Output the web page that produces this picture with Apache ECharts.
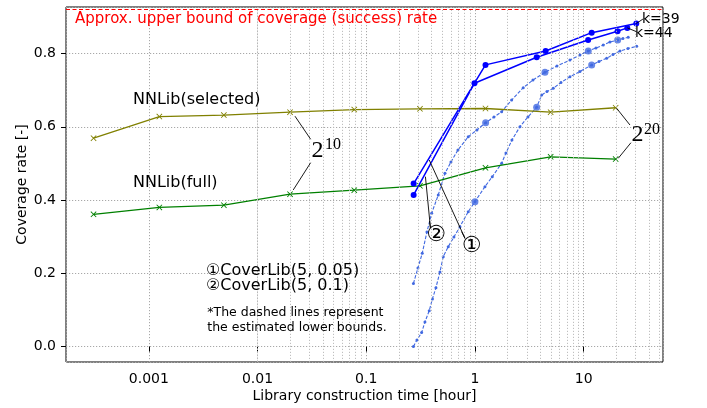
<!DOCTYPE html>
<html><head><meta charset="utf-8">
<script src="https://cdn.jsdelivr.net/npm/echarts@6/dist/echarts.min.js"></script>
<style>html,body{margin:0;padding:0;background:#fff}#c{width:707px;height:408px}</style>
</head><body><div id="c"></div>
<script>
// ---- data ----
const nnTime = [0.00031, 0.00125, 0.0049, 0.0199, 0.0776, 0.312, 1.25, 4.97, 19.7];
const nnSelected = [0.569, 0.628, 0.632, 0.640, 0.647, 0.649, 0.650, 0.640, 0.652];
const nnFull = [0.361, 0.380, 0.386, 0.416, 0.427, 0.439, 0.488, 0.518, 0.512];

const cov1Time = [0.273, 1.25, 4.47, 11.85, 30.5];       // CoverLib(5, 0.05), k=39
const cov1Rate = [0.445, 0.769, 0.807, 0.857, 0.882];
const cov2Time = [0.273, 0.99, 3.7, 11.0, 20.5, 25.2];    // CoverLib(5, 0.1), k=44
const cov2Rate = [0.414, 0.719, 0.790, 0.837, 0.861, 0.870];

// estimated lower bounds (dashed)
const low1Time = [0.2717,0.2927,0.3233,0.3467,0.3798,0.4064,0.4377,0.4765,0.511,0.5681,0.641,0.7278,0.8678,1.0,1.236,1.443,1.761,1.928,2.19,2.594,3.073,3.695,4.108,4.597,5.253,6.183,7.482,9.247,11.85,13.83,16.28,18.61,21.58,25.56,30.74];
const low1Rate = [0.000,0.0183,0.0382,0.0674,0.0982,0.1302,0.161,0.2038,0.2456,0.2729,0.2993,0.3274,0.3683,0.3956,0.4366,0.4638,0.5004,0.5285,0.564,0.6003,0.6268,0.6532,0.6868,0.6963,0.705,0.7209,0.7367,0.7509,0.7686,0.7782,0.7869,0.7973,0.8068,0.8136,0.8196];
const low2Time = [0.2717,0.299,0.3275,0.3618,0.3996,0.4597,0.5297,0.6014,0.6974,0.8678,1.043,1.254,1.496,1.761,2.176,2.782,3.417,4.405,5.681,7.482,9.247,11.03,12.98,15.15,17.46,20.55,22.98,25.72];
const low2Rate = [0.1724,0.2147,0.2548,0.313,0.364,0.4139,0.4731,0.504,0.5367,0.573,0.5913,0.6112,0.6267,0.6412,0.6731,0.7067,0.7277,0.7487,0.7659,0.7823,0.7959,0.8068,0.815,0.8232,0.8314,0.8368,0.8409,0.8442];
const low1BigTime = [1.0, 3.695, 11.85];
const low1BigRate = [0.3956, 0.6532, 0.7686];
const low2BigTime = [1.254, 4.405, 11.03, 20.55];
const low2BigRate = [0.6112, 0.7487, 0.8068, 0.8368];

const upperBound = 0.92;
const xTickLabels = ['0.001', '0.01', '0.1', '1', '10'];

// annotation leader lines, in data coordinates
const leaders = [
  [[0.0221, 0.629], [0.0308, 0.566]],
  [[0.0308, 0.502], [0.0213, 0.4276]],
  [[20.12, 0.6505], [26.67, 0.6049]],
  [[20.81, 0.514], [27.23, 0.5566]],
  [[30.5, 0.882], [35.1, 0.894]],
  [[25.2, 0.870], [30.7, 0.8595]],
  [[0.809, 0.2958], [0.3798, 0.5094]],
  [[0.809, 0.2958], [0.7546, 0.3138]],
  [[0.3896, 0.3239], [0.3504, 0.4638]],
  [[0.3896, 0.3239], [0.3815, 0.343]]
];

// ---- chart ----
const X_MIN = 0.000173, X_MAX = 53.7, Y_MIN = -0.042, Y_MAX = 0.927;
const F = "'DejaVu Sans', 'Noto Sans CJK JP', sans-serif";
const SERIF = "'Liberation Serif', 'DejaVu Serif', serif";
const GRID_STYLE = { type: [1.2, 1.8], color: '#a8a8a8', width: 1 };
const minorGrid = [];
for (let e = -4; e <= 1; e++) for (let m = 2; m <= 9; m++) {
  const v = +(m * Math.pow(10, e)).toPrecision(2);
  if (v > X_MIN && v < X_MAX) minorGrid.push({ xAxis: v });
}
const xMark = 'path://M0,1 L1,0 L5,4 L9,0 L10,1 L6,5 L10,9 L9,10 L5,6 L1,10 L0,9 L4,5 Z';
const pairs = (xs, ys) => xs.map((x, i) => [x, ys[i]]);
function fmtX(v) {
  const e = Math.log10(v), r = Math.round(e);
  if (Math.abs(e - r) > 1e-6) return '';
  const s = r < 0 ? Math.pow(10, r).toFixed(-r) : String(Math.pow(10, r));
  return xTickLabels.indexOf(s) >= 0 ? s : '';
}
function txt(x, y, text, size, opts) {
  return Object.assign({ type: 'text', x: x, y: y, z: 100, silent: true,
    style: Object.assign({ text: text, fontSize: size, fontFamily: F, fill: '#000', align: 'left', verticalAlign: 'middle' }, opts || {}) });
}

const chart = echarts.init(document.getElementById('c'));
const series = [
  { type: 'line', data: [], silent: true, z: 1,
    markLine: { silent: true, symbol: ['none', 'none'], label: { show: false }, animation: false,
      data: minorGrid.map(d => Object.assign({ lineStyle: { type: [1.2, 1.8], color: '#b8b8b8', width: 0.9 } }, d))
        .concat([{ yAxis: upperBound, lineStyle: { type: [4, 2.5], color: '#ff0000', width: 1.2 } }]) } },
  { name: 'NNLib(selected)', type: 'line', data: pairs(nnTime, nnSelected), symbol: xMark, symbolSize: 6, z: 3,
    lineStyle: { color: '#808000', width: 1.3 }, itemStyle: { color: '#808000' } },
  { name: 'NNLib(full)', type: 'line', data: pairs(nnTime, nnFull), symbol: xMark, symbolSize: 6, z: 3,
    lineStyle: { color: '#008000', width: 1.3 }, itemStyle: { color: '#008000' } },
  { name: 'low1', type: 'line', data: pairs(low1Time, low1Rate), symbol: 'circle', symbolSize: 3, z: 2,
    lineStyle: { color: '#4169e1', width: 1.1, type: [3.5, 1.6] }, itemStyle: { color: '#4169e1' } },
  { name: 'low2', type: 'line', data: pairs(low2Time, low2Rate), symbol: 'circle', symbolSize: 3, z: 2,
    lineStyle: { color: '#4169e1', width: 1.1, type: [3.5, 1.6] }, itemStyle: { color: '#4169e1' } },
  { type: 'scatter', data: pairs(low1BigTime, low1BigRate), symbolSize: 7, itemStyle: { color: '#4169e1' }, z: 2 },
  { type: 'scatter', data: pairs(low2BigTime, low2BigRate), symbolSize: 7, itemStyle: { color: '#4169e1' }, z: 2 },
  { name: 'CoverLib(5, 0.05)', type: 'line', data: pairs(cov1Time, cov1Rate), symbol: 'circle', symbolSize: 6, z: 4,
    lineStyle: { color: '#0000ff', width: 1.5 }, itemStyle: { color: '#0000ff' } },
  { name: 'CoverLib(5, 0.1)', type: 'line', data: pairs(cov2Time, cov2Rate), symbol: 'circle', symbolSize: 6, z: 4,
    lineStyle: { color: '#0000ff', width: 1.5 }, itemStyle: { color: '#0000ff' } }
].concat(leaders.map(seg => ({ type: 'line', data: seg, symbol: 'none', silent: true, z: 5,
    lineStyle: { color: '#000', width: 0.9 } })));

chart.setOption({
  animation: false,
  grid: { left: 66, right: 44, top: 7, bottom: 46, show: true, borderColor: '#000', borderWidth: 1, backgroundColor: 'rgba(0,0,0,0)' },
  xAxis: {
    type: 'log', logBase: 10, min: X_MIN, max: X_MAX,
    name: 'Library construction time [hour]', nameLocation: 'middle', nameGap: 27, nameMoveOverlap: false,
    nameTextStyle: { fontFamily: F, fontSize: 14, color: '#000' },
    axisLine: { show: false },
    axisTick: { show: true, length: 5, lineStyle: { color: '#000', width: 1 } },
    axisLabel: { margin: 10, fontFamily: F, fontSize: 14, color: '#000', showMinLabel: false, showMaxLabel: false, formatter: fmtX },
    splitLine: { show: true, lineStyle: GRID_STYLE }
  },
  yAxis: {
    type: 'value', min: Y_MIN, max: Y_MAX, splitNumber: 5,
    name: 'Coverage rate [-]', nameLocation: 'middle', nameGap: 37, nameMoveOverlap: false,
    nameTextStyle: { fontFamily: F, fontSize: 14, color: '#000' },
    axisLine: { show: false },
    axisTick: { show: true, length: 5, lineStyle: { color: '#000', width: 1 } },
    axisLabel: { margin: 10, fontFamily: F, fontSize: 14, color: '#000', showMinLabel: false, showMaxLabel: false,
      formatter: v => v.toFixed(1) },
    splitLine: { show: true, lineStyle: GRID_STYLE }
  },
  series: series,
  graphic: [
    txt(75, 19.5, 'Approx. upper bound of coverage (success) rate', 15, { fill: '#ff0000' }),
    txt(133, 100, 'NNLib(selected)', 16),
    txt(133, 183, 'NNLib(full)', 16),
    txt(311.5, 150.5, '2', 24, { fontFamily: SERIF }),
    txt(325, 145, '10', 16, { fontFamily: SERIF }),
    txt(631.5, 135, '2', 24, { fontFamily: SERIF }),
    txt(644, 129.5, '20', 16, { fontFamily: SERIF }),
    txt(642, 19, 'k=39', 14),
    txt(635, 33.3, 'k=44', 14),
    txt(471.7, 246.7, '①', 22, { align: 'center' }),
    txt(436, 235.5, '②', 22, { align: 'center' }),
    txt(206, 270.7, '①CoverLib(5, 0.05)', 16),
    txt(206, 286, '②CoverLib(5, 0.1)', 16),
    txt(207.3, 312.7, '*The dashed lines represent', 12.5),
    txt(207.3, 327.7, 'the estimated lower bounds.', 12.5)
  ]
});
</script></body></html>
